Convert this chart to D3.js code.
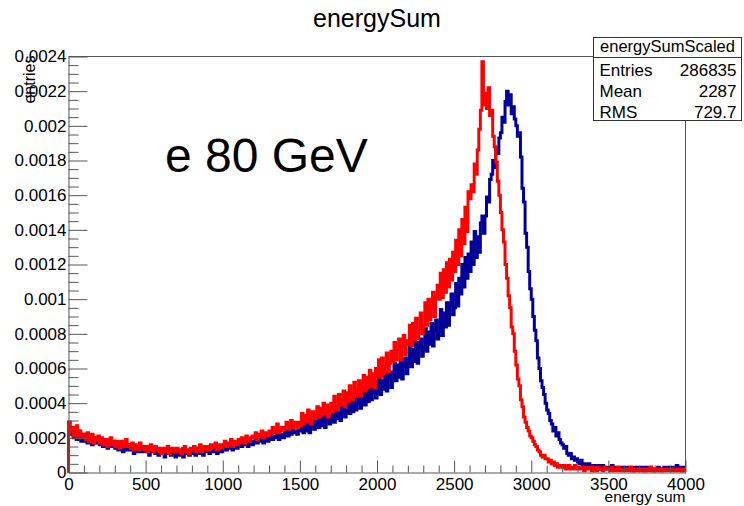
<!DOCTYPE html>
<html>
<head>
<meta charset="utf-8">
<script src="https://cdn.jsdelivr.net/npm/d3@7"></script>
<style>
  html, body { margin: 0; padding: 0; background: #fff; }
  svg { display: block; font-family: "Liberation Sans", Arial, Helvetica, sans-serif; }
</style>
</head>
<body>
<svg id="chart" width="744" height="506"></svg>
<script>
// Histogram binning: 400 bins of 10 units over [0, 4000]
const xMin = 0, xMax = 4000, binWidth = 10;

// Bin contents, in units of 1e-4 (normalised entries); one row per 100 units
const blueBins = [
  2.9, 2.2, 2.5, 2.0, 2.3, 1.9, 2.4, 2.1, 1.8, 2.2,
  1.8, 2.1, 1.7, 2.0, 1.9, 1.6, 2.0, 1.8, 1.7, 2.0,
  1.6, 1.9, 1.5, 1.8, 1.7, 1.4, 1.8, 1.6, 1.5, 1.8,
  1.4, 1.7, 1.3, 1.6, 1.5, 1.2, 1.6, 1.4, 1.3, 1.6,
  1.3, 1.5, 1.1, 1.4, 1.3, 1.2, 1.5, 1.2, 1.4, 1.3,
  1.2, 1.4, 1.0, 1.3, 1.2, 1.4, 1.1, 1.3, 1.0, 1.2,
  1.1, 1.3, 0.9, 1.2, 1.1, 1.3, 1.0, 1.2, 1.1, 0.9,
  1.2, 1.0, 1.3, 1.1, 0.9, 1.2, 1.1, 1.3, 1.0, 1.2,
  1.1, 1.3, 1.0, 1.2, 1.4, 1.1, 1.2, 1.0, 1.3, 1.2,
  1.3, 1.1, 1.4, 1.2, 1.3, 1.5, 1.1, 1.3, 1.4, 1.2,
  1.4, 1.6, 1.3, 1.5, 1.4, 1.7, 1.3, 1.5, 1.6, 1.4,
  1.6, 1.8, 1.5, 1.7, 1.6, 1.9, 1.5, 1.7, 1.8, 1.6,
  1.8, 2.0, 1.7, 1.9, 1.8, 2.1, 1.7, 2.0, 1.9, 1.8,
  2.0, 2.2, 1.9, 2.1, 2.0, 2.3, 1.9, 2.2, 2.1, 2.0,
  2.3, 2.5, 2.1, 2.4, 2.2, 2.6, 2.3, 2.4, 2.2, 2.5,
  2.4, 3.0, 2.3, 2.9, 2.4, 3.1, 2.3, 2.7, 3.0, 2.5,
  2.7, 3.3, 2.6, 3.2, 2.7, 3.4, 2.6, 3.1, 3.3, 2.8,
  3.0, 3.7, 2.9, 3.6, 3.1, 3.8, 3.0, 3.5, 3.8, 3.2,
  3.5, 4.2, 3.4, 4.1, 3.5, 4.4, 3.6, 4.0, 4.5, 3.7,
  4.1, 4.9, 3.9, 4.7, 4.1, 5.0, 4.2, 4.6, 5.1, 4.3,
  4.7, 5.5, 4.5, 5.3, 4.8, 5.7, 4.7, 5.4, 5.8, 4.9,
  5.4, 6.3, 5.3, 6.2, 5.5, 6.5, 5.4, 6.2, 6.6, 5.7,
  6.3, 7.3, 6.1, 7.1, 6.4, 7.5, 6.3, 7.2, 7.7, 6.7,
  7.2, 8.3, 7.0, 8.1, 7.4, 8.6, 7.3, 8.2, 8.8, 7.7,
  8.1, 9.4, 7.9, 9.2, 8.4, 9.8, 8.5, 9.7, 10.3, 9.1,
  9.5, 10.9, 9.6, 11.2, 10.3, 12.0, 10.7, 12.4, 11.2, 12.6,
  11.6, 13.3, 12.0, 13.9, 12.4, 13.6, 12.7, 14.4, 14.8, 13.8,
  14.8, 15.9, 15.6, 16.9, 17.2, 18.0, 17.6, 18.7, 18.4, 19.3,
  19.6, 20.5, 20.2, 21.4, 22.0, 21.2, 21.8, 20.7, 21.1, 20.4,
  20.0, 19.4, 19.6, 18.2, 16.4, 15.6, 13.8, 13.0, 11.6, 10.6,
  10.0, 9.0, 8.2, 7.6, 6.6, 6.0, 5.3, 4.9, 4.5, 4.0,
  3.6, 3.4, 3.0, 2.8, 2.4, 2.6, 2.1, 2.3, 1.9, 1.7,
  1.6, 1.4, 1.5, 1.1, 1.0, 1.1, 0.8, 0.9, 0.7, 0.8,
  0.6, 0.5, 0.7, 0.4, 0.5, 0.4, 0.3, 0.5, 0.4, 0.3,
  0.4, 0.3, 0.3, 0.4, 0.2, 0.3, 0.4, 0.2, 0.3, 0.3,
  0.2, 0.3, 0.4, 0.2, 0.3, 0.2, 0.3, 0.2, 0.3, 0.2,
  0.3, 0.2, 0.2, 0.3, 0.2, 0.3, 0.1, 0.2, 0.3, 0.2,
  0.2, 0.3, 0.2, 0.1, 0.3, 0.2, 0.2, 0.3, 0.2, 0.1,
  0.2, 0.2, 0.3, 0.2, 0.1, 0.2, 0.3, 0.2, 0.2, 0.3,
  0.2, 0.3, 0.2, 0.2, 0.4, 0.3, 0.2, 0.1, 0.3, 0.2
];

const redBins = [
  2.9, 2.3, 2.6, 2.1, 2.5, 2.7, 2.0, 2.4, 2.2, 2.0,
  2.2, 1.9, 2.3, 1.8, 2.1, 2.2, 1.7, 2.0, 1.9, 2.1,
  1.7, 2.0, 1.6, 1.9, 1.8, 1.5, 1.9, 2.0, 1.6, 1.8,
  1.5, 1.8, 1.7, 1.4, 1.8, 1.6, 1.5, 1.9, 1.5, 1.6,
  1.4, 1.7, 1.3, 1.6, 1.5, 1.3, 1.7, 1.4, 1.5, 1.3,
  1.5, 1.2, 1.4, 1.6, 1.3, 1.2, 1.5, 1.3, 1.4, 1.2,
  1.1, 1.4, 1.3, 1.2, 1.5, 1.1, 1.3, 1.4, 1.2, 1.3,
  1.4, 1.2, 1.3, 1.1, 1.4, 1.5, 1.2, 1.3, 1.1, 1.4,
  1.3, 1.5, 1.2, 1.4, 1.3, 1.6, 1.2, 1.4, 1.5, 1.3,
  1.5, 1.3, 1.6, 1.4, 1.5, 1.7, 1.3, 1.5, 1.6, 1.4,
  1.6, 1.8, 1.5, 1.7, 1.6, 1.9, 1.5, 1.8, 1.7, 1.6,
  1.9, 1.7, 2.0, 1.8, 1.7, 2.1, 1.9, 1.8, 2.0, 2.1,
  2.0, 2.3, 1.9, 2.2, 2.1, 2.4, 2.0, 2.3, 2.2, 2.1,
  2.4, 2.2, 2.6, 2.3, 2.5, 2.8, 2.3, 2.4, 2.6, 2.5,
  2.6, 2.9, 2.5, 2.7, 3.0, 2.6, 2.8, 2.9, 2.6, 2.9,
  2.7, 3.4, 2.8, 3.3, 2.9, 3.6, 3.0, 2.8, 3.5, 3.1,
  3.1, 3.8, 3.2, 3.7, 3.3, 4.0, 3.4, 3.9, 3.2, 3.6,
  4.0, 3.5, 4.4, 3.8, 3.6, 4.5, 3.9, 4.2, 4.7, 3.8,
  4.6, 4.1, 5.0, 4.5, 4.2, 5.2, 4.4, 4.8, 5.3, 4.4,
  5.2, 5.6, 4.7, 5.5, 4.9, 5.9, 5.0, 5.7, 4.9, 6.0,
  5.6, 6.5, 5.5, 6.6, 5.7, 6.1, 6.9, 5.8, 6.3, 7.0,
  6.4, 7.5, 6.5, 7.1, 7.7, 6.5, 7.3, 7.9, 6.8, 7.6,
  7.4, 8.5, 7.3, 8.6, 7.6, 8.9, 7.7, 8.3, 9.2, 8.0,
  8.5, 9.8, 8.5, 10.0, 8.8, 9.5, 10.4, 9.0, 10.1, 10.8,
  10.0, 11.5, 10.1, 11.7, 10.4, 12.1, 10.7, 12.3, 11.1, 12.7,
  11.6, 13.4, 12.0, 14.0, 12.5, 14.6, 13.2, 15.3, 13.9, 16.2,
  15.8, 16.6, 16.2, 17.8, 17.2, 18.6, 19.8, 20.9, 23.7, 21.2,
  21.9, 21.0, 22.2, 20.6, 20.9, 19.4, 18.8, 17.9, 16.8, 16.0,
  15.0, 14.0, 13.3, 12.0, 11.2, 10.2, 9.5, 8.4, 8.0, 7.0,
  6.2, 5.4, 5.0, 4.2, 3.8, 3.2, 2.9, 2.6, 2.4, 2.1,
  2.0, 1.8, 1.6, 1.5, 1.3, 1.2, 1.0, 0.9, 1.0, 0.8,
  0.8, 0.6, 0.7, 0.5, 0.6, 0.4, 0.5, 0.3, 0.4, 0.4,
  0.3, 0.4, 0.2, 0.3, 0.4, 0.2, 0.3, 0.2, 0.4, 0.3,
  0.2, 0.3, 0.2, 0.3, 0.1, 0.3, 0.2, 0.3, 0.2, 0.1,
  0.3, 0.2, 0.1, 0.3, 0.2, 0.2, 0.1, 0.3, 0.2, 0.2,
  0.2, 0.1, 0.3, 0.2, 0.1, 0.2, 0.3, 0.1, 0.2, 0.2,
  0.1, 0.2, 0.2, 0.1, 0.3, 0.2, 0.1, 0.2, 0.1, 0.2,
  0.2, 0.1, 0.2, 0.2, 0.1, 0.2, 0.1, 0.3, 0.1, 0.2,
  0.1, 0.2, 0.1, 0.2, 0.2, 0.1, 0.2, 0.1, 0.2, 0.1,
  0.2, 0.1, 0.1, 0.2, 0.1, 0.2, 0.1, 0.1, 0.2, 0.1
];
const binUnit = 1e-4;

// Axis ticks
const xTicks = [0, 500, 1000, 1500, 2000, 2500, 3000, 3500, 4000];
const yTicks = [0, 0.0002, 0.0004, 0.0006, 0.0008, 0.001, 0.0012, 0.0014,
                0.0016, 0.0018, 0.002, 0.0022, 0.0024];

// Statistics box
const statsTitle = "energySumScaled";
const statsLabels = ["Entries", "Mean", "RMS"];
const statsValues = ["286835", "2287", "729.7"];

const svg = d3.select("#chart");
const frame = { left: 68.5, right: 685.5, top: 56.5, bottom: 472.5 };

const x = d3.scaleLinear().domain([xMin, xMax]).range([frame.left, frame.right]);
const y = d3.scaleLinear().domain([0, 0.0024]).range([frame.bottom, frame.top]);

// Title
svg.append("text")
  .attr("x", 377).attr("y", 27)
  .attr("text-anchor", "middle")
  .attr("font-size", 25)
  .attr("fill", "#000")
  .text("energySum");

// Histograms drawn as step lines
function histPoints(bins) {
  const pts = [[xMin, 0]];
  bins.forEach((v, i) => pts.push([xMin + i * binWidth, v * binUnit]));
  pts.push([xMax, bins[bins.length - 1] * binUnit]);
  return pts;
}
const step = d3.line()
  .x(d => x(d[0]))
  .y(d => y(d[1]))
  .curve(d3.curveStepAfter);

svg.append("path")
  .attr("d", step(histPoints(blueBins)))
  .attr("fill", "none")
  .attr("stroke", "#000099")
  .attr("stroke-width", 3);

svg.append("path")
  .attr("d", step(histPoints(redBins)))
  .attr("fill", "none")
  .attr("stroke", "#ff0000")
  .attr("stroke-width", 3);

// Frame top and right edges
svg.append("path")
  .attr("d", `M${frame.left},${frame.top}H${frame.right}V${frame.bottom}`)
  .attr("fill", "none")
  .attr("stroke", "#555")
  .attr("stroke-width", 1);

// X axis: major ticks every 500, minor every 100, pointing into the frame
const xAxis = d3.axisBottom(x)
  .tickValues(xTicks)
  .tickFormat(d3.format("d"))
  .tickSizeInner(-12).tickSizeOuter(0).tickPadding(5);
const gx = svg.append("g")
  .attr("transform", `translate(0,${frame.bottom})`)
  .call(xAxis);
gx.select(".domain").attr("stroke", "#555");
gx.selectAll(".tick line").attr("stroke", "#555");
gx.selectAll("text").attr("font-size", 17).attr("fill", "#000")
  .attr("font-family", "Liberation Sans, Arial, sans-serif");

const xMinor = d3.range(0, 4001, 100).filter(v => v % 500 !== 0);
svg.append("g")
  .attr("transform", `translate(0,${frame.bottom})`)
  .call(d3.axisBottom(x).tickValues(xMinor).tickFormat("").tickSizeInner(-7).tickSizeOuter(0))
  .call(g => g.select(".domain").remove())
  .selectAll("line").attr("stroke", "#555");

// Y axis: major ticks every 0.0002, minor every 0.00005
const yAxis = d3.axisLeft(y)
  .tickValues(yTicks)
  .tickFormat(d => d === 0 ? "0" : String(+d.toFixed(4)))
  .tickSizeInner(-19).tickSizeOuter(0).tickPadding(2);
const gy = svg.append("g")
  .attr("transform", `translate(${frame.left},0)`)
  .call(yAxis);
gy.select(".domain").attr("stroke", "#555");
gy.selectAll(".tick line").attr("stroke", "#555");
gy.selectAll("text").attr("font-size", 17).attr("fill", "#000")
  .attr("font-family", "Liberation Sans, Arial, sans-serif");

const yMinor = d3.range(0, 48).map(i => i * 0.00005).filter((v, i) => i % 4 !== 0);
svg.append("g")
  .attr("transform", `translate(${frame.left},0)`)
  .call(d3.axisLeft(y).tickValues(yMinor).tickFormat("").tickSizeInner(-10).tickSizeOuter(0))
  .call(g => g.select(".domain").remove())
  .selectAll("line").attr("stroke", "#555");

// Axis titles
svg.append("text")
  .attr("x", frame.right).attr("y", 502)
  .attr("text-anchor", "end")
  .attr("font-size", 15.5)
  .text("energy sum");

svg.append("text")
  .attr("transform", `translate(35,${frame.top - 1}) rotate(-90)`)
  .attr("text-anchor", "end")
  .attr("font-size", 16)
  .text("entries");

// Annotation
svg.append("text")
  .attr("x", 165).attr("y", 172)
  .attr("font-size", 48)
  .text("e 80 GeV");

// Statistics box
const sb = { x: 593.5, y: 37.5, w: 148, h: 83, head: 20 };
const gs = svg.append("g");
gs.append("rect")
  .attr("x", sb.x).attr("y", sb.y).attr("width", sb.w).attr("height", sb.h)
  .attr("fill", "#fff").attr("stroke", "#333").attr("stroke-width", 1);
gs.append("line")
  .attr("x1", sb.x).attr("x2", sb.x + sb.w)
  .attr("y1", sb.y + sb.head).attr("y2", sb.y + sb.head)
  .attr("stroke", "#333");
gs.append("text")
  .attr("x", sb.x + sb.w / 2).attr("y", 52)
  .attr("text-anchor", "middle").attr("font-size", 16.5)
  .text(statsTitle);
statsLabels.forEach((lab, i) => {
  const by = 76 + i * 21;
  gs.append("text").attr("x", sb.x + 6).attr("y", by)
    .attr("font-size", 17).text(lab);
  gs.append("text").attr("x", sb.x + sb.w - 5).attr("y", by)
    .attr("text-anchor", "end").attr("font-size", 17).text(statsValues[i]);
});
</script>
</body>
</html>
